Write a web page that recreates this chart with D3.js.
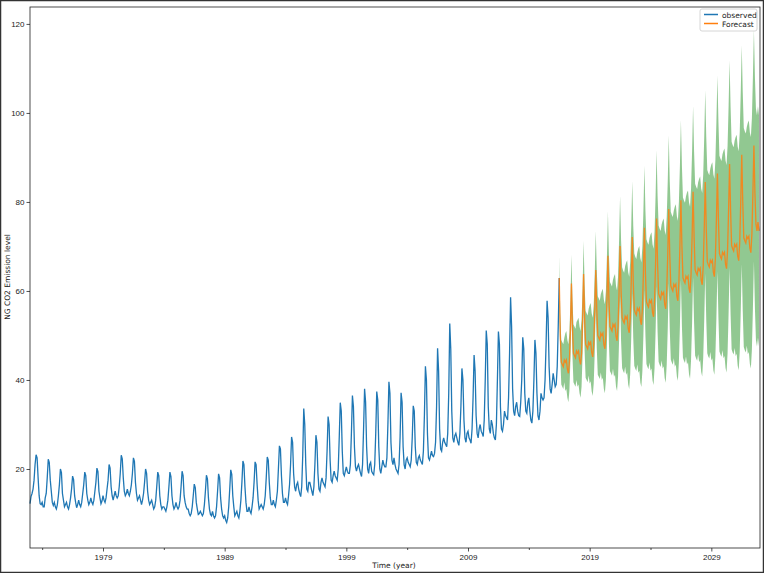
<!DOCTYPE html>
<html><head><meta charset="utf-8">
<script src="https://cdn.jsdelivr.net/npm/d3@7"></script>
<style>body{margin:0;background:#fff}svg{display:block;font-family:"DejaVu Sans",sans-serif}</style>
</head><body><svg id="c" width="764" height="573"></svg>
<script>
// Observed monthly values (Jan..Dec) per year, 1973..2016 (2016 ends in July)
const obsStartYear = 1973;
const observed = [
[12.2,13.8,14.5,15.5,17.5,21,23.2,22.5,18,14,12.2,12],
[12.5,11.5,11.5,13.5,14.5,18,22.2,21.5,17.5,15,12.5,11.8],
[12.5,11.5,11,12,14,16.5,20,19.2,14.5,13,11.5,12],
[12.5,11.5,11,12,13.5,15.5,18.4,17.6,14,12.5,11.3,12],
[13,12,11.5,12.5,14.5,16.5,19.3,18.5,14.5,13,12,12.5],
[13.5,12.5,12,13,15,17,20.2,19.4,15,13.5,12.2,12.8],
[14,13,12.5,13.5,15.5,17.5,21,20.2,16,14,13,14],
[15,14,13.5,14,16,19,23.1,22.3,18,15,14,14.5],
[15.5,14.5,14,15,16.5,19,22.5,21.7,17,14.5,13,13.5],
[14,13,12,13,14.5,17,20,19,15,13,12,12.5],
[13,12,11,11.5,13,16,19.3,18.5,14,12,11,11.5],
[11.5,11,10.5,11.5,13,16,19.3,18.3,14,12,11,11.5],
[12.5,11.5,11,11.5,13,16,19.5,18.5,14,12.5,11.5,11],
[11,10,9.5,10,11.5,14,16.6,15.8,12.5,11,9.8,10],
[10.5,10,9.5,10,12,15,18.6,17.8,13.5,11,9.8,9.5],
[10.5,9.5,9,9.5,11.5,15,18.9,18,13.5,11,9.5,9],
[9.5,8.5,8,9,11.5,15.5,19.8,18.8,14,11.5,9.5,10],
[10.5,9.5,9,10.5,13,17,21.8,21,16,12.5,10.5,10.5],
[11.5,10.5,10,11.5,13.5,17,21.6,21,16.5,13,11,11.5],
[12,11.5,11,12,14,18,22.7,22,17,13.5,12,12],
[13,12,11.5,13,15,20,25.2,24.5,18.5,14.5,12.5,12.5],
[13.5,12.5,12,14,16.5,21,27.2,26,19,16,15,16.5],
[17,15.5,14.5,13.8,16,23,33.6,30,21,15.5,15,17],
[17,16,15,14,16,21,27.6,26,19,15.5,15,17],
[18,17,16.5,16,18,24,31.8,30,22,17.5,17,18.5],
[19.5,18.5,18,17.5,20,27,34.9,33,24,19,18.5,19.5],
[20.5,19.5,19,19,21,28,36.5,34,25,20.5,19.5,20.5],
[21,20,19,18.3,21,29,38,35,25,20,19,21],
[21.5,19.5,19,18.7,21,28,37.4,35.5,25,20,19,20.5],
[22,21,20.5,20.5,22.5,30,39.6,37,26,22,21,22.5],
[21,20,19.5,19,21,27,37.1,35,25,21,20,22],
[22.5,21.5,21,20.5,22,27,34.2,33,25,21.5,21,22.5],
[23,22,21.5,21,24,32,43.1,40,28,22.5,22,23],
[24,23,22.8,23.5,26,34,47.1,42,29,24.5,24,26],
[27,26,25.5,25,28,37,52.7,47,33,27,26,27.5],
[28,27,26,25.3,28,34,42.6,40,31,27,26,28],
[28.5,27,26.5,25.8,29,36,45.6,42,32,28,27,29],
[30,28.5,28,27.3,31,40,51.1,48,34,29,28,31],
[30,28,27,26.5,30,40,50.9,48,34,29,28.5,30],
[33,32,31.5,31,36,46,58.6,52,38,33,32,34],
[35,33,32,31.8,35,40,49.6,47,37,33,32.5,35],
[36,33,31,30.3,33,40,49,46,37,32,31,33],
[37,36,35.5,36,40,48,57.8,54,43,38,37,39],
[41.5,40,38.5,39,43,52,62.9]
];
// Forecast mean, starting July 2016
const fcStartYear = 2016, fcStartMonth = 6;
const forecast = [
[62.9,50,44,43.5,43,44.5],
[44,44.5,42.5,41.5,44,51,61.7,52,46,45.5,45,46.5],
[46,46.5,44.5,43.5,46,53,63.8,54,48,47.5,47,48.5],
[48,48.5,46.2,45.2,48,55,64.7,56,50,49.5,49,50.5],
[50,50.5,48,47,50,57.5,67.9,58,52,51.5,51,52.5],
[52,52.5,49.8,48.8,52,60,70.1,60,54,53.3,52.8,54.3],
[53.8,54.3,51.6,50.6,54,62,72.1,62,55.8,55.1,54.6,56.1],
[55.6,56.1,53.4,52.4,56,64,74.2,64,57.6,56.9,56.4,57.9],
[57.4,57.9,55.2,54.2,58,66,76.3,66,59.4,58.7,58.2,59.7],
[59.2,59.7,57,56,60,68,78.4,68,61.2,60.5,60,61.5],
[61,61.5,58.8,57.8,62,70,80.4,70,63,62.3,61.8,63.3],
[62.8,63.3,60.6,59.6,63.8,72,82.3,72,64.8,64.1,63.6,65.1],
[64.6,65.1,62.4,61.4,65.6,74,84.5,74,66.6,65.9,65.4,66.9],
[66.4,66.9,64.2,63.2,67.4,76,86.4,76,68.4,67.7,67.2,68.7],
[68.2,68.7,66,65,69.2,78,88.5,78,70.2,69.5,69,70.5],
[70,70.5,67.8,66.8,71,80,90.6,80,72,71.3,70.8,72.3],
[71.8,72.3,69.6,68.6,72.8,82,92.7,82,75,73.5,75.5,73.5]
];
// Confidence interval half-width per forecast year (2016..2032)
const ciHalf = [5,6.5,7.5,8.8,10,11.3,12.6,14,15.3,16.6,18,19.3,20.6,22,23.3,24.6,26];
const yTicks = [20,40,60,80,100,120];
const xLabelTicks = [1979,1989,1999,2009,2019,2029];
const xMinorTicks = [1974,1984,1994,2004,2014,2024];

const obsPts = [];
observed.forEach((row,i)=>row.forEach((v,m)=>obsPts.push({t:obsStartYear+i+m/12,v})));
const fcPts = [];
forecast.forEach((row,i)=>row.forEach((v,k)=>{
  const m = i===0 ? fcStartMonth+k : k;
  fcPts.push({t:fcStartYear+i+m/12,v,lo:v-ciHalf[i],hi:v+ciHalf[i]});
}));

const svg = d3.select("#c");
svg.append("rect").attr("x",0.5).attr("y",0.5).attr("width",763).attr("height",572)
  .attr("fill","#fff").attr("stroke","#333").attr("stroke-width",1.5);
const L=30,R=760,T=7,B=548;
const x = d3.scaleLinear().domain([1973,2033]).range([L,R]);
const y = d3.scaleLinear().domain([2.25,123.8]).range([B,T]);

svg.append("path").datum(fcPts).attr("fill","#008000").attr("fill-opacity",0.43)
  .attr("d",d3.area().x(d=>x(d.t)).y0(d=>y(d.lo)).y1(d=>y(d.hi)));
svg.append("path").datum(obsPts).attr("fill","none").attr("stroke","#1f77b4").attr("stroke-width",1.3)
  .attr("d",d3.line().x(d=>x(d.t)).y(d=>y(d.v)));
svg.append("path").datum(fcPts).attr("fill","none").attr("stroke","#ff7f0e").attr("stroke-opacity",0.85).attr("stroke-width",1.3)
  .attr("d",d3.line().x(d=>x(d.t)).y(d=>y(d.v)));

svg.append("rect").attr("x",L).attr("y",T).attr("width",R-L).attr("height",B-T)
  .attr("fill","none").attr("stroke","#222").attr("stroke-width",0.8);

const ya = svg.append("g").attr("transform",`translate(${L},0)`)
  .call(d3.axisLeft(y).tickValues(yTicks).tickSize(3.5).tickPadding(2));
const xa = svg.append("g").attr("transform",`translate(0,${B})`)
  .call(d3.axisBottom(x).tickValues(xLabelTicks).tickFormat(d3.format("d")).tickSize(3.5).tickPadding(3));
svg.append("g").attr("transform",`translate(0,${B})`)
  .call(d3.axisBottom(x).tickValues(xMinorTicks).tickFormat("").tickSize(2));
svg.selectAll(".domain").remove();
svg.selectAll(".tick text").attr("font-size",8).attr("fill","#222");
svg.selectAll(".tick line").attr("stroke","#222").attr("stroke-width",0.8);

svg.append("text").attr("x",394).attr("y",568).attr("text-anchor","middle").attr("font-size",7.5).attr("fill","#222").text("Time (year)");
svg.append("text").attr("transform","translate(10,277) rotate(-90)").attr("text-anchor","middle").attr("font-size",7.5).attr("fill","#222").text("NG CO2 Emission level");

const lg = svg.append("g").attr("transform","translate(700,9)");
lg.append("rect").attr("width",57).attr("height",22).attr("rx",2).attr("fill","#fff").attr("fill-opacity",0.85).attr("stroke","#ccc").attr("stroke-width",0.8);
[["observed","#1f77b4"],["Forecast","#ff7f0e"]].forEach(([n,c],i)=>{
  lg.append("line").attr("x1",4).attr("x2",18).attr("y1",5.5+i*9).attr("y2",5.5+i*9).attr("stroke",c).attr("stroke-width",1.5);
  lg.append("text").attr("x",22).attr("y",8.5+i*9).attr("font-size",7.5).attr("fill","#222").text(n);
});
</script></body></html>
